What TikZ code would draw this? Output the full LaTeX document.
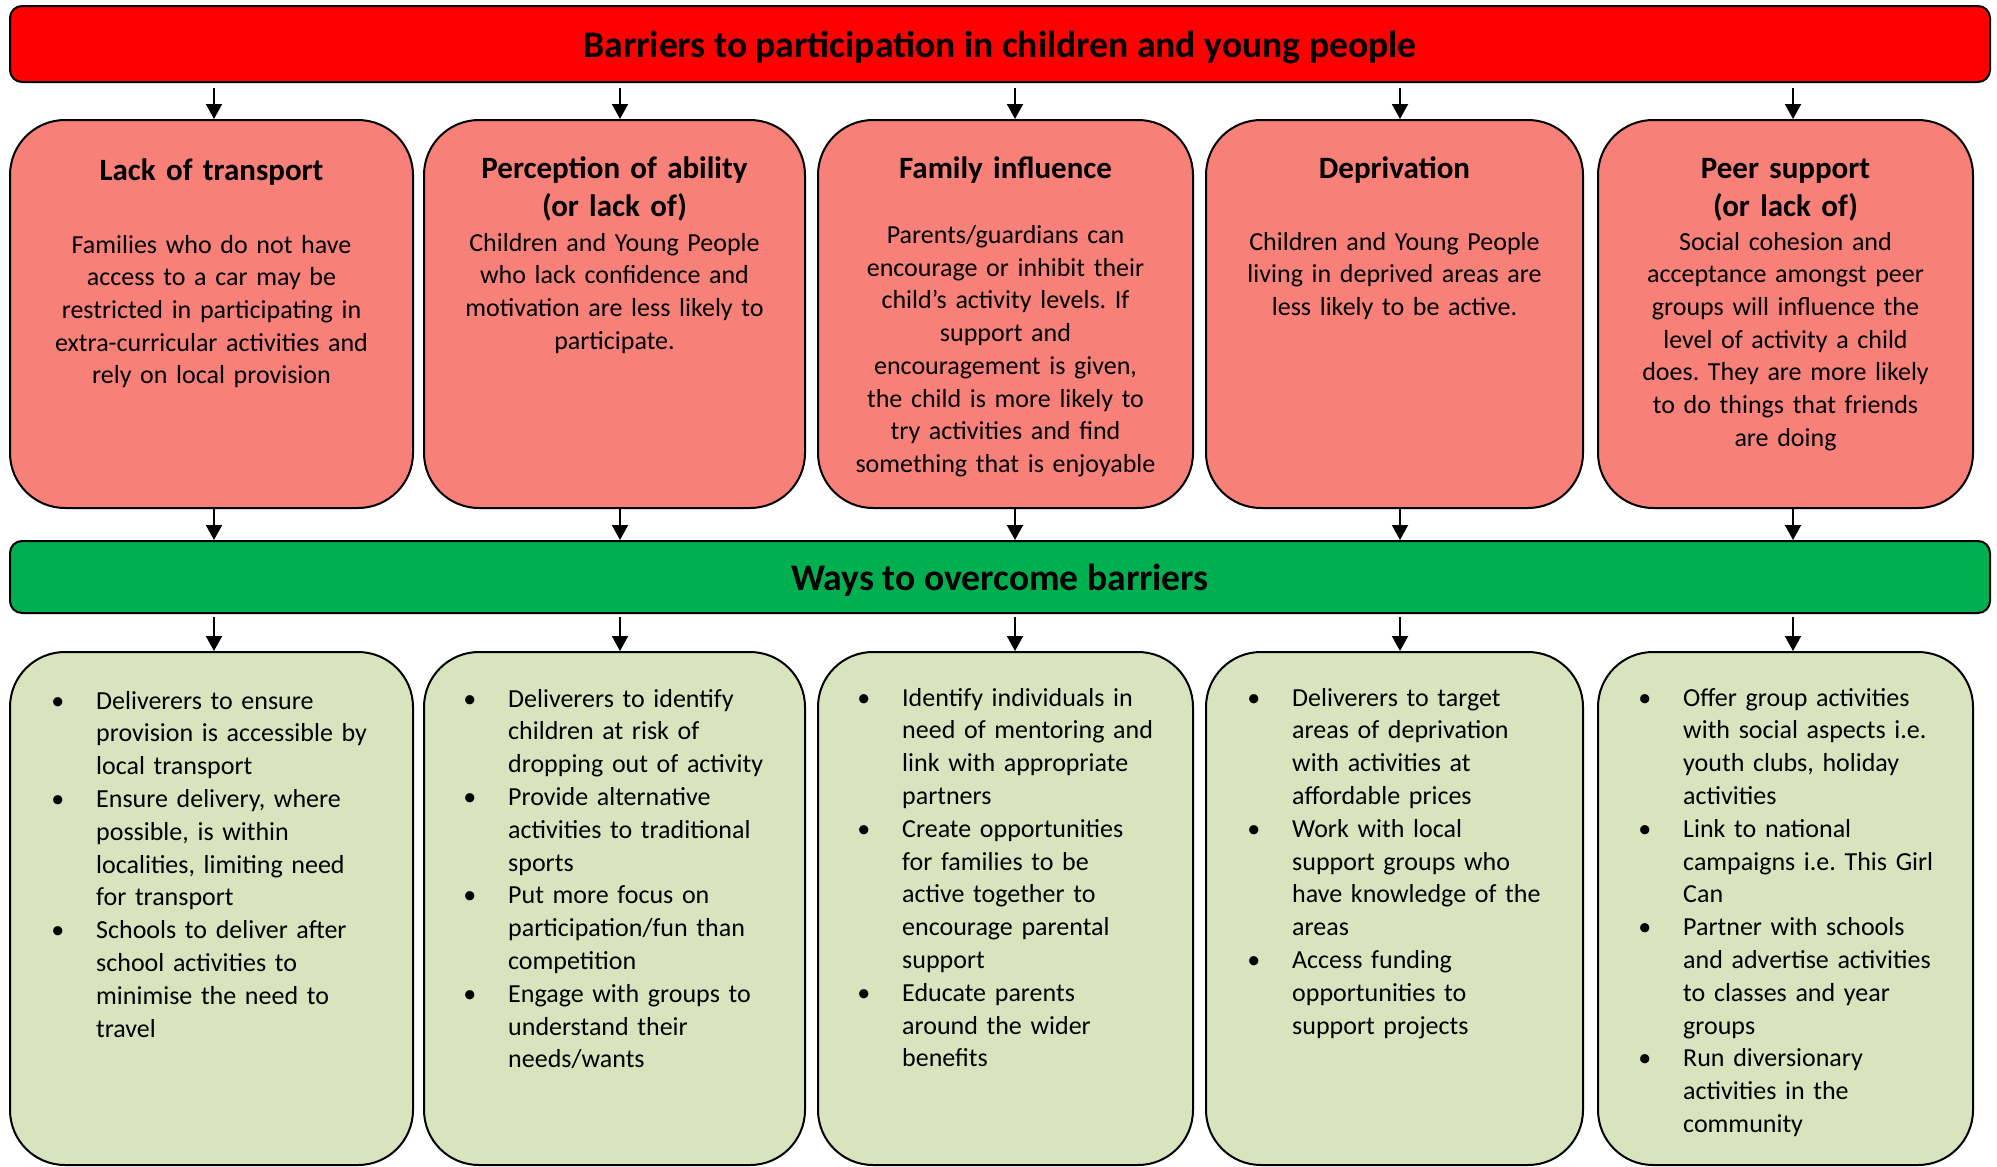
\documentclass[tikz,border=0pt]{standalone}
\usepackage{fontspec}
\setmainfont{Carlito}
\frenchspacing
\usetikzlibrary{arrows.meta,positioning,calc}
\definecolor{headred}{RGB}{255,0,0}
\definecolor{barrierred}{RGB}{247,128,121}
\definecolor{headgreen}{RGB}{0,176,80}
\definecolor{actiongreen}{RGB}{215,228,189}
\newcommand{\bitem}{\leavevmode\llap{\textbullet\hspace{32pt}}}
\tikzset{
    headbar/.style={rectangle, draw=black, line width=2pt, rounded corners=12pt, minimum width=1980pt, minimum height=76pt, text depth=0pt, font=\fontsize{37.6}{45}\selectfont\bfseries},
    barrier/.style={rectangle, draw=black, line width=2pt, fill=barrierred, rounded corners=55pt, minimum height=388pt},
    action/.style={rectangle, draw=black, line width=2pt, fill=actiongreen, rounded corners=55pt, minimum height=513pt},
    heading/.style={anchor=base, inner sep=0pt, text width=360pt, align=center, font=\fontsize{31}{38.4}\selectfont\bfseries},
    bodytext/.style={anchor=base, inner sep=0pt, text width=370pt, align=center, font=\fontsize{26}{32.7}\selectfont},
    bullets/.style={anchor=base west, inner sep=0pt, text width=320pt, align=left, font=\fontsize{26}{32.8}\selectfont},
    arrow/.style={line width=2pt, -{Triangle[length=15pt,width=16pt]}}
}

\begin{document}
\begin{tikzpicture}[x=1pt, y=-1pt]
        \useasboundingbox (0,0) rectangle (1997,1167);
        \node (barriers) [headbar, fill=headred] at (1000,44) {Barriers to participation in children and young people};
        \node (ways) [headbar, fill=headgreen, minimum height=72pt] at (1000,577) {Ways to overcome barriers};

        % Barrier boxes
        \node (b1) [barrier, minimum width=403pt] at (211.5,314) {};
        \node (b2) [barrier, minimum width=381pt] at (614.5,314) {};
        \node (b3) [barrier, minimum width=375pt] at (1005.5,314) {};
        \node (b4) [barrier, minimum width=377pt] at (1394.5,314) {};
        \node (b5) [barrier, minimum width=375pt] at (1785.5,314) {};

        \node (h1) [heading] at ($(b1.north)+(0,61)$) {Lack of transport};
        \node (d1) [bodytext] at ($(b1.north)+(0,134)$) {Families who do not have\\access to a car may be\\restricted in participating in\\extra-curricular activities and\\rely on local provision};
        \node (h2) [heading] at ($(b2.north)+(0,59)$) {Perception of ability\\(or lack of)};
        \node (d2) [bodytext] at ($(b2.north)+(0,132)$) {Children and Young People\\who lack confidence and\\motivation are less likely to\\participate.};
        \node (h3) [heading] at ($(b3.north)+(0,59)$) {Family influence};
        \node (d3) [bodytext] at ($(b3.north)+(0,124.5)$) {Parents/guardians can\\encourage or inhibit their\\child’s activity levels. If\\support and\\encouragement is given,\\the child is more likely to\\try activities and find\\something that is enjoyable};
        \node (h4) [heading] at ($(b4.north)+(0,59)$) {Deprivation};
        \node (d4) [bodytext] at ($(b4.north)+(0,131)$) {Children and Young People\\living in deprived areas are\\less likely to be active.};
        \node (h5) [heading] at ($(b5.north)+(0,59)$) {Peer support\\(or lack of)};
        \node (d5) [bodytext] at ($(b5.north)+(0,131)$) {Social cohesion and\\acceptance amongst peer\\groups will influence the\\level of activity a child\\does. They are more likely\\to do things that friends\\are doing};

        % Action boxes
        \node (a1) [action, minimum width=403pt] at (211.5,908.5) {};
        \node (a2) [action, minimum width=381pt] at (614.5,908.5) {};
        \node (a3) [action, minimum width=375pt] at (1005.5,908.5) {};
        \node (a4) [action, minimum width=377pt] at (1394.5,908.5) {};
        \node (a5) [action, minimum width=375pt] at (1785.5,908.5) {};

        \node (l1) [bullets] at ($(a1.north west)+(87,58)$) {\bitem Deliverers to ensure\\provision is accessible by\\local transport\\\bitem Ensure delivery, where\\possible, is within\\localities, limiting need\\for transport\\\bitem Schools to deliver after\\school activities to\\minimise the need to\\travel};
        \node (l2) [bullets] at ($(a2.north west)+(85,56)$) {\bitem Deliverers to identify\\children at risk of\\dropping out of activity\\\bitem Provide alternative\\activities to traditional\\sports\\\bitem Put more focus on\\participation/fun than\\competition\\\bitem Engage with groups to\\understand their\\needs/wants};
        \node (l3) [bullets] at ($(a3.north west)+(85,55)$) {\bitem Identify individuals in\\need of mentoring and\\link with appropriate\\partners\\\bitem Create opportunities\\for families to be\\active together to\\encourage parental\\support\\\bitem Educate parents\\around the wider\\benefits};
        \node (l4) [bullets] at ($(a4.north west)+(87,55)$) {\bitem Deliverers to target\\areas of deprivation\\with activities at\\affordable prices\\\bitem Work with local\\support groups who\\have knowledge of the\\areas\\\bitem Access funding\\opportunities to\\support projects};
        \node (l5) [bullets] at ($(a5.north west)+(86,55)$) {\bitem Offer group activities\\with social aspects i.e.\\youth clubs, holiday\\activities\\\bitem Link to national\\campaigns i.e. This Girl\\Can\\\bitem Partner with schools\\and advertise activities\\to classes and year\\groups\\\bitem Run diversionary\\activities in the\\community};

        % Connectors
        \draw [arrow] ([xshift=2.5pt,yshift=-5pt]barriers.south -| b1.north) -- ([xshift=2.5pt]b1.north);
        \draw [arrow] ([xshift=5.5pt,yshift=-5pt]barriers.south -| b2.north) -- ([xshift=5.5pt]b2.north);
        \draw [arrow] ([xshift=9.5pt,yshift=-5pt]barriers.south -| b3.north) -- ([xshift=9.5pt]b3.north);
        \draw [arrow] ([xshift=5.5pt,yshift=-5pt]barriers.south -| b4.north) -- ([xshift=5.5pt]b4.north);
        \draw [arrow] ([xshift=7.5pt,yshift=-5pt]barriers.south -| b5.north) -- ([xshift=7.5pt]b5.north);

        \draw [arrow] ([xshift=2.5pt]b1.south) -- ([xshift=2.5pt]ways.north -| b1.south);
        \draw [arrow] ([xshift=5.5pt]b2.south) -- ([xshift=5.5pt]ways.north -| b2.south);
        \draw [arrow] ([xshift=9.5pt]b3.south) -- ([xshift=9.5pt]ways.north -| b3.south);
        \draw [arrow] ([xshift=5.5pt]b4.south) -- ([xshift=5.5pt]ways.north -| b4.south);
        \draw [arrow] ([xshift=7.5pt]b5.south) -- ([xshift=7.5pt]ways.north -| b5.south);

        \draw [arrow] ([xshift=2.5pt,yshift=-3pt]ways.south -| a1.north) -- ([xshift=2.5pt]a1.north);
        \draw [arrow] ([xshift=5.5pt,yshift=-3pt]ways.south -| a2.north) -- ([xshift=5.5pt]a2.north);
        \draw [arrow] ([xshift=9.5pt,yshift=-3pt]ways.south -| a3.north) -- ([xshift=9.5pt]a3.north);
        \draw [arrow] ([xshift=5.5pt,yshift=-3pt]ways.south -| a4.north) -- ([xshift=5.5pt]a4.north);
        \draw [arrow] ([xshift=7.5pt,yshift=-3pt]ways.south -| a5.north) -- ([xshift=7.5pt]a5.north);
    \end{tikzpicture}
\end{document}
